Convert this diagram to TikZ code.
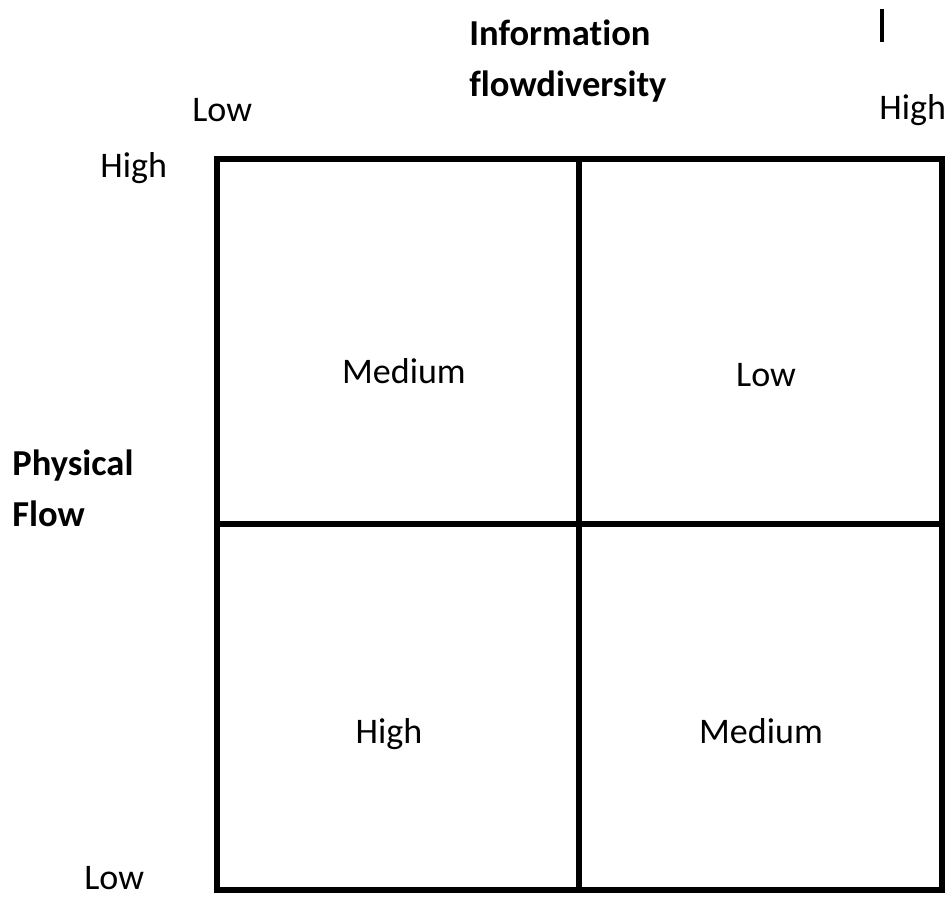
\documentclass[tikz,border=0pt]{standalone}
\usepackage{fontspec}
\setmainfont{Carlito}[Ligatures=NoCommon]
\tikzstyle{grid}=[line width=3.4pt,line join=miter]
\tikzstyle{every node}=[font=\fontsize{20.5}{28.5}\selectfont,inner sep=0pt]
\tikzstyle{axis}=[font=\bfseries\fontsize{20.8}{28.5}\selectfont,align=left,anchor=base west]
\tikzstyle{tick}=[anchor=base west]
\tikzstyle{cell}=[anchor=base]

\begin{document}
\begin{tikzpicture}[x=0.02cm,y=-0.02cm]
    \useasboundingbox (0,0) rectangle (951,897);
    % matrix
    \draw[grid] (217,159) rectangle (942,890);
    \draw[grid] (579,159)--(579,890);
    \draw[grid] (217,524)--(942,524);
    % axes
    \node[axis] (info) at (469,96) {Information\\flowdiversity};
    \node[axis] (phys) at (12,526) {Physical\\Flow};
    \node[tick] (xlow) at (192,121) {Low};
    \node[tick] (xhigh) at (879,119) {High};
    \node[tick] (yhigh) at (100,177) {High};
    \node[tick] (ylow) at (84,889) {Low};
    \draw[line width=2.3pt] (882,9)--(882,42);
    % cells
    \node[cell] (tl) at (404,383) {Medium};
    \node[cell] (tr) at (766,386) {Low};
    \node[cell] (bl) at (389,743) {High};
    \node[cell] (br) at (761,743) {Medium};
  \end{tikzpicture}
\end{document}
